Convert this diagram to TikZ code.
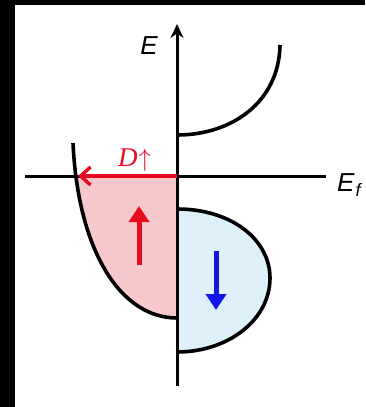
\documentclass[tikz,border=0pt]{standalone}
\usepackage{fontspec}
\newfontfamily\lsans{Liberation Sans}
\newfontfamily\lserif{Liberation Serif}
\usetikzlibrary{arrows.meta}
\definecolor{pinkfill}{RGB}{247,200,203}
\definecolor{bluefill}{RGB}{222,240,250}
\definecolor{myred}{RGB}{232,10,30}
\definecolor{myblue}{RGB}{20,20,230}
\tikzset{
  axisline/.style={line width=3pt, black},
  dosline/.style={line width=3.6pt, black},
  spinarrow/.style={line width=5pt, -{Triangle[length=16pt,width=20pt]}},
  lab/.style={inner sep=0pt, font=\lsans\itshape\fontsize{26}{26}\selectfont}
}
\begin{document}
\begin{tikzpicture}[x=1pt,y=-1pt]
\useasboundingbox (0,0) rectangle (365,407);
\fill[black] (0,0) rectangle (365,407);
\fill[white] (15,5) rectangle (365,407);
% coordinates
\coordinate (O) at (177,176);
\coordinate (ytop) at (177,24);
\coordinate (ybot) at (177,386);
\coordinate (xl) at (25,176);
\coordinate (xr) at (326,176);
\coordinate (cross) at (78,176);
% pink filled spin-up region below E_F
\begin{scope}
  \clip (20,176) rectangle (177,330);
  \fill[pinkfill] (73,143) .. controls (78,250) and (120,318) .. (177,318) -- (177,143) -- cycle;
\end{scope}
% blue lobe
\fill[bluefill] (177,209) .. controls (232,209) and (270,240) .. (270,278) .. controls (270,320) and (228,352) .. (177,352) -- cycle;
% curves
\draw[dosline] (73,143) .. controls (78,250) and (120,318) .. (177,318);
\draw[dosline] (177,209) .. controls (232,209) and (270,240) .. (270,278) .. controls (270,320) and (228,352) .. (177,352);
\draw[dosline] (177,135) .. controls (232,135) and (279,102) .. (280,45);
% axes
\draw[axisline] (xl) -- (xr);
\draw[axisline, -{Stealth[length=14pt,width=13pt]}] (ybot) -- (ytop);
% red D arrow
\draw[myred, line width=3.6pt, -{Straight Barb[length=10pt,width=18pt,line width=3.4pt]}] (O) -- (cross);
% spin arrows
\coordinate (ru1) at (139,265);
\coordinate (ru2) at (139,206);
\coordinate (bd1) at (216,251);
\coordinate (bd2) at (216,310);
\draw[spinarrow, myred] (ru1) -- (ru2);
\draw[spinarrow, myblue] (bd1) -- (bd2);
% labels
\node[lab, anchor=base] (Elab) at (149,54) {E};
\node[lab, anchor=base west] (EFlab) at (337,191) {E\kern1pt\raisebox{-5pt}{\fontsize{18}{18}\selectfont f}};
\node[inner sep=0pt, anchor=base west, text=myred] (Dlab) at (118,166) {\lserif\itshape\fontsize{27}{27}\selectfont D\kern1pt$\uparrow$};
\end{tikzpicture}
\end{document}
